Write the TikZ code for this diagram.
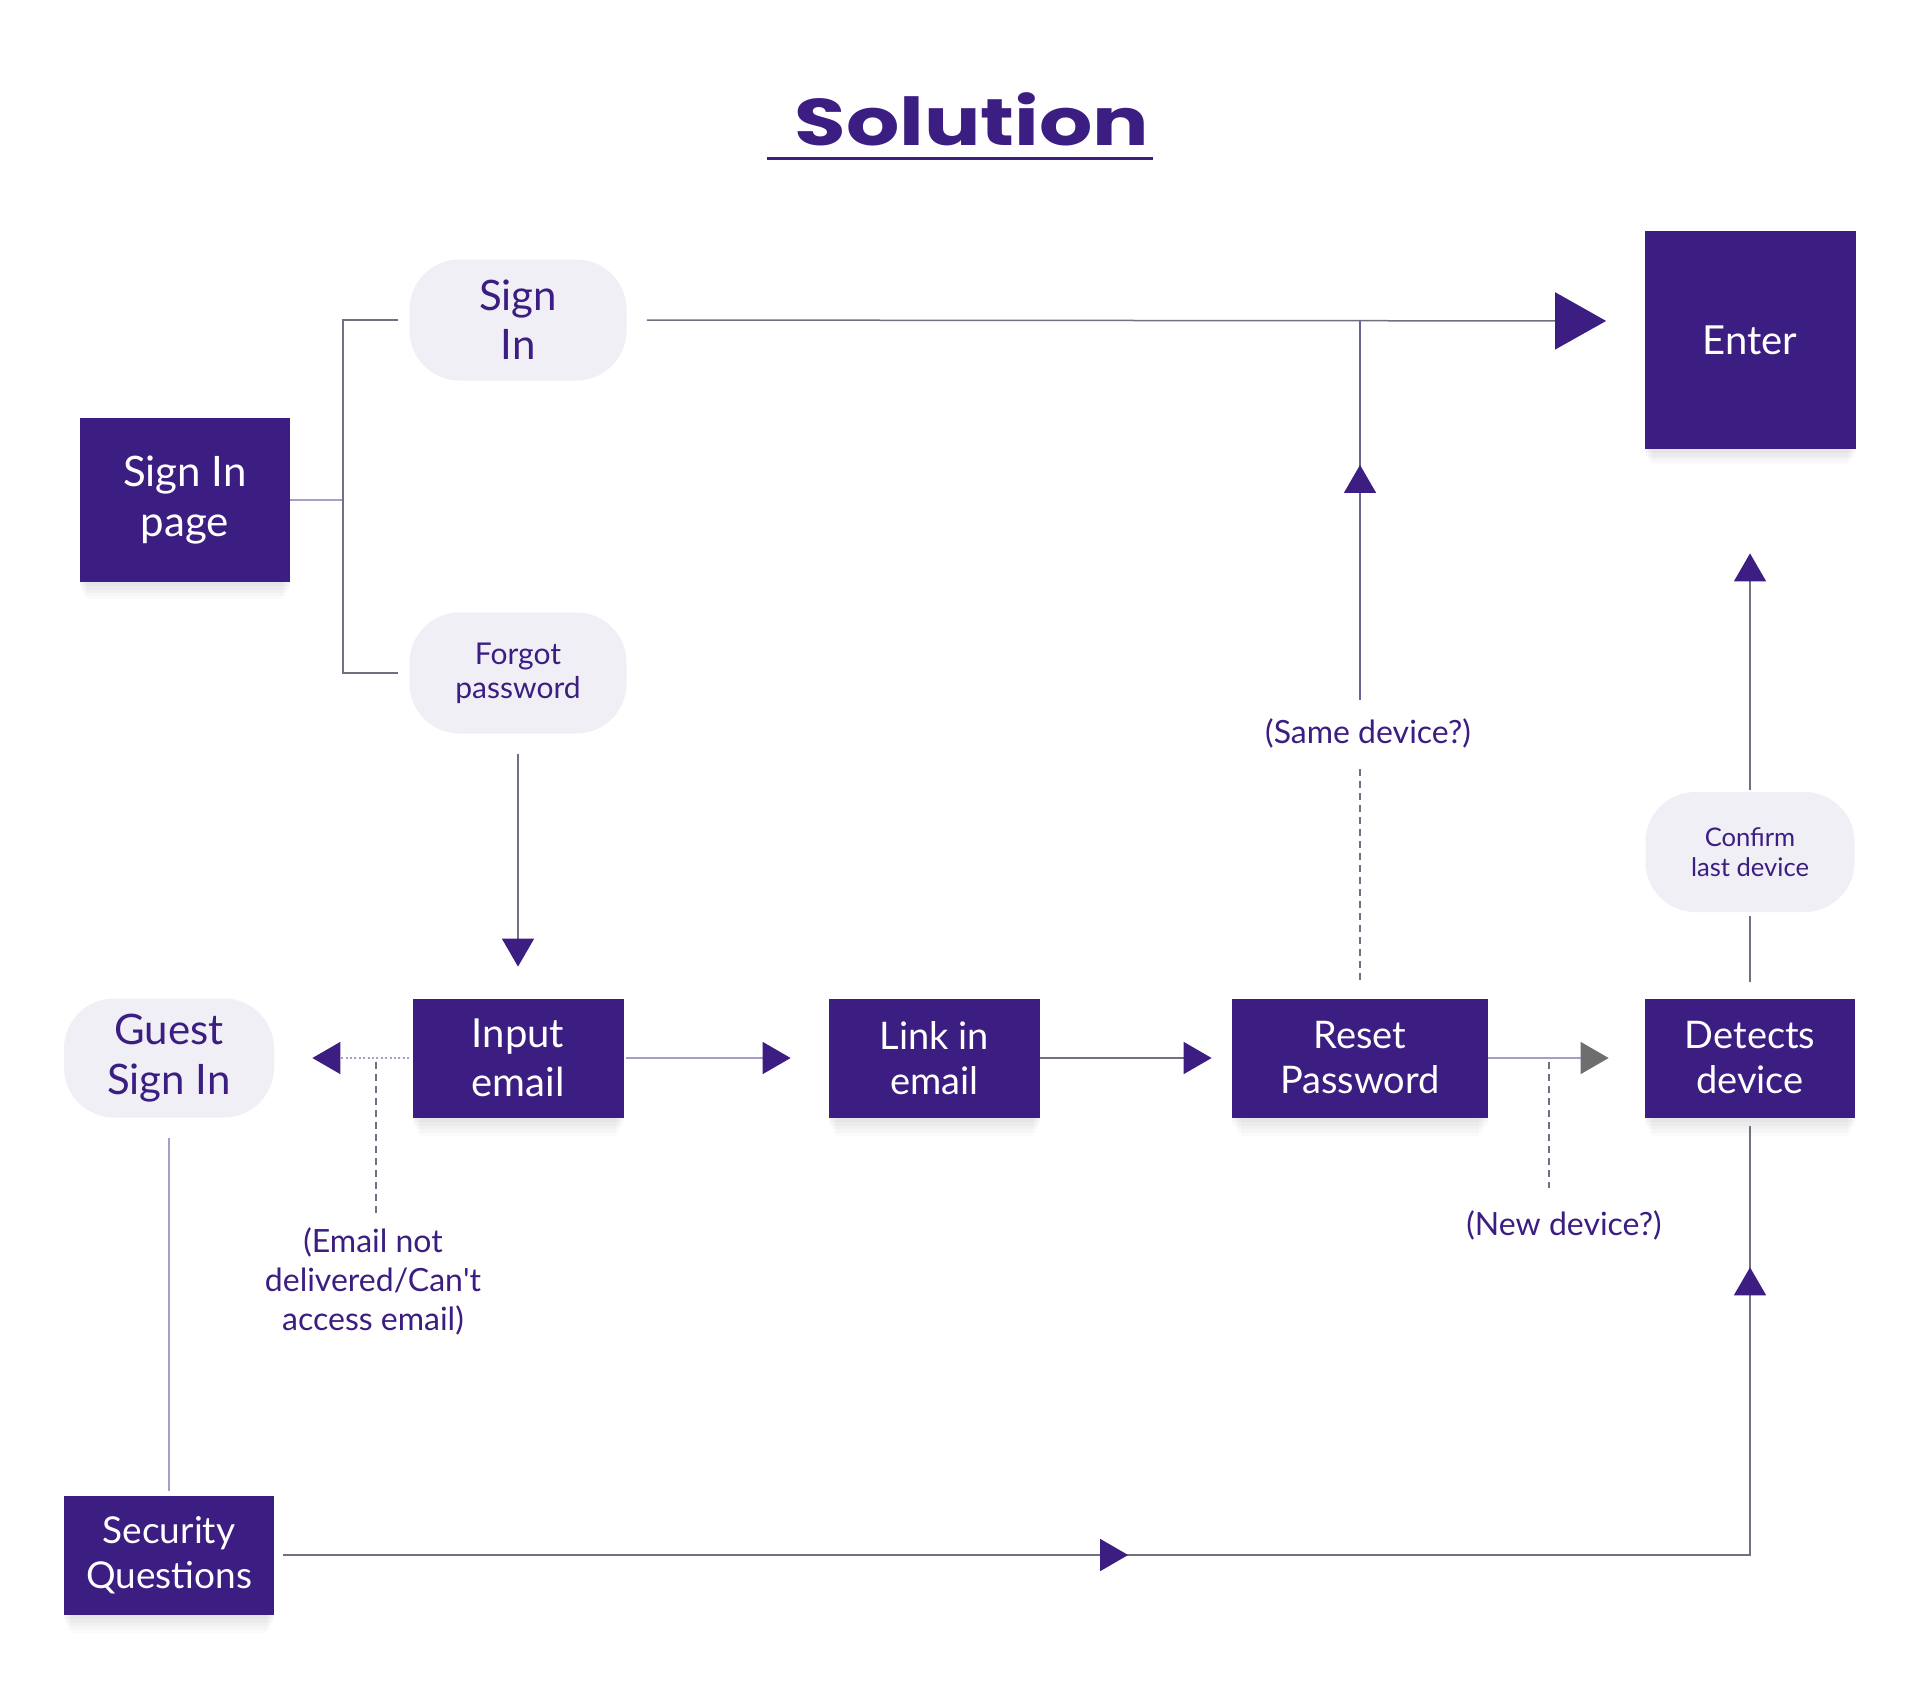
\documentclass[tikz,border=0pt]{standalone}
\usepackage{fontspec}
\usepackage{graphicx}
\setmainfont{Lato}
\newfontfamily\latoplain{Lato}
\newfontfamily\titlefont{Poppins}
\usetikzlibrary{arrows.meta,decorations.markings,shadows}
\definecolor{purp}{HTML}{3C1E82}
\definecolor{pillbg}{HTML}{F0EFF5}
\definecolor{lgray}{HTML}{707080}
\definecolor{lpurp}{HTML}{A89CC8}
\definecolor{vpurp}{HTML}{6B6296}
\definecolor{tgray}{HTML}{6E6E6E}
\tikzset{
  ptri/.tip={Triangle[length=14pt,width=16pt,color=purp,fill=purp]},
  ptriL/.tip={Triangle[length=25.5pt,width=28.5pt,color=purp,fill=purp]},
  gtri/.tip={Triangle[length=14pt,width=16pt,color=tgray,fill=tgray]},
  softshadow/.style={
    general shadow={shadow xshift=0pt, shadow yshift=-2pt, fill=black, opacity=0.025},
    general shadow={shadow xshift=0pt, shadow yshift=-4.5pt, shadow scale=0.99, fill=black, opacity=0.025},
    general shadow={shadow xshift=0pt, shadow yshift=-7pt, shadow scale=0.97, fill=black, opacity=0.02},
    general shadow={shadow xshift=0pt, shadow yshift=-9.5pt, shadow scale=0.95, fill=black, opacity=0.02},
    general shadow={shadow xshift=0pt, shadow yshift=-12pt, shadow scale=0.93, fill=black, opacity=0.015}},
  box/.style={fill=purp, text=white, align=center, inner sep=0pt, softshadow},
  pill/.style={fill=pillbg, text=purp, align=center, rounded corners=25pt, inner sep=0pt},
  lbl/.style={text=purp, align=center, inner sep=0pt, font=\fontsize{16}{19.5}\selectfont},
  conn/.style={draw=lgray, line width=0.75pt},
  dsh/.style={draw=lgray, line width=0.6pt, dash pattern=on 3.5pt off 2.5pt},
  midarrows/.style={postaction={decorate, decoration={markings,
      mark=at position #1 with {\arrow{Triangle[length=14pt,width=16pt,color=purp,fill=purp]}}}}},
}
\begin{document}
\begin{tikzpicture}[x=0.5pt,y=-0.5pt]
\useasboundingbox[fill=white] (0,0) rectangle (1920,1696);

% title
\node[anchor=base, text=purp, inner sep=0pt, font=\titlefont\bfseries\fontsize{33}{38}\selectfont] (title) at (972,146) {\scalebox{1.27}[1]{Solution}};
\draw[purp, line width=1.5pt] (767,159) -- (1153,159);

% nodes
\node[box, minimum width=105pt, minimum height=82pt, font=\fontsize{21}{25}\selectfont] (sip) at (185,500) {\raisebox{-4pt}{\parbox{100pt}{\centering Sign In\\page}}};
\node[pill, minimum width=108.5pt, minimum height=60.5pt, font=\fontsize{21}{24.5}\selectfont] (signin) at (518,320) {Sign\\In};
\node[pill, minimum width=108.5pt, minimum height=60.5pt, font=\fontsize{15}{17}\selectfont] (forgot) at (518,673) {Forgot\\password};
\node[box, minimum width=105.5pt, minimum height=109pt, font=\fontsize{20}{24}\selectfont] (enter) at (1750,340) {Enter};
\node[pill, minimum width=104.5pt, minimum height=60pt, font=\fontsize{12.8}{15.3}\selectfont] (confirm) at (1750,852) {Confirm\\last device};
\node[box, minimum width=105pt, minimum height=59.5pt, font=\fontsize{19}{22.5}\selectfont] (det) at (1750,1058) {Detects\\device};
\node[box, minimum width=128pt, minimum height=59.5pt, font=\fontsize{19}{22.5}\selectfont] (reset) at (1360,1058) {Reset\\Password};
\node[box, minimum width=105.5pt, minimum height=59.5pt, font=\fontsize{19}{22.5}\selectfont] (link) at (934.5,1058) {Link in\\email};
\node[box, minimum width=105.5pt, minimum height=59.5pt, font=\fontsize{20}{24.5}\selectfont] (input) at (518,1058) {Input\\email};
\node[pill, minimum width=105pt, minimum height=59.5pt, font=\fontsize{21}{25}\selectfont] (guest) at (169,1058) {Guest\\Sign In};
\node[box, minimum width=105pt, minimum height=59.5pt, font=\fontsize{18.5}{22.5}\selectfont] (sec) at (169,1555) {Security\\Questions};

% labels
\node[lbl] (samelbl) at (1368,733) {(Same device?)};
\node[lbl] (newlbl) at (1564,1225) {(New device?)};
\node[lbl] (emaillbl) at (373,1281) {(Email not\\delivered/Can{\latoplain '}t\\access email)};

% helper coordinates
\coordinate (br) at (343,500);
\coordinate (jn) at (1360,321);
\coordinate (nd) at (1549,1058);
\coordinate (ed) at (376,1058);

% bracket
\draw[conn, draw=lpurp] (sip.east) -- (br);
\draw[conn] ([xshift=-5.5pt]signin.west) -| (br) |- ([xshift=-5.5pt]forgot.west);

% Sign In -> Enter
\draw[conn, -{ptriL}, shorten <=10pt, shorten >=19pt] (signin.east) -- (enter.west |- jn);

% Reset -> Same device -> Enter line
\draw[dsh, shorten <=9pt, shorten >=9pt] (reset.north) -- (reset.north |- samelbl.south);
\draw[conn, draw=vpurp, midarrows=0.62] ([yshift=9pt]reset.north |- samelbl.north) -- (jn);

% main row
\draw[conn, -{ptri}, shorten <=10pt, shorten >=15.75pt] (forgot.south) -- (input.north);
\draw[conn, draw=lpurp, -{ptri}, shorten <=1pt, shorten >=19pt] (input.east) -- (link.west);
\draw[conn, -{ptri}, shorten >=10pt] (link.east) -- (reset.west);
\draw[conn, draw=lpurp, -{gtri}, shorten >=18pt] (reset.east) -- (det.west);
\draw[dsh, shorten <=2pt, shorten >=11pt] (nd) -- (nd |- newlbl.north);

% Input -> Guest (dotted)
\draw[line width=0.75pt, draw=lpurp, dash pattern=on 1pt off 1.2pt, -{ptri}, shorten <=1.5pt, shorten >=19pt] (input.west) -- (guest.east);
\draw[dsh, shorten <=2pt, shorten >=5pt] (ed) -- (ed |- emaillbl.north);

% Guest -> Security
\draw[conn, draw=lpurp, line width=0.6pt, shorten <=10pt, shorten >=2pt] (guest.south) -- (sec.north);

% Detects -> Confirm -> Enter
\draw[conn, shorten <=8pt, shorten >=2pt] (det.north) -- (confirm.south);
\draw[conn, -{ptri}, shorten <=1pt, shorten >=52pt] (confirm.north) -- (enter.south);

% Security -> Detects
\draw[conn, midarrows=0.4456, midarrows=0.9254] ([xshift=4.5pt]sec.east) -| ([yshift=-4pt]det.south);
\end{tikzpicture}
\end{document}
